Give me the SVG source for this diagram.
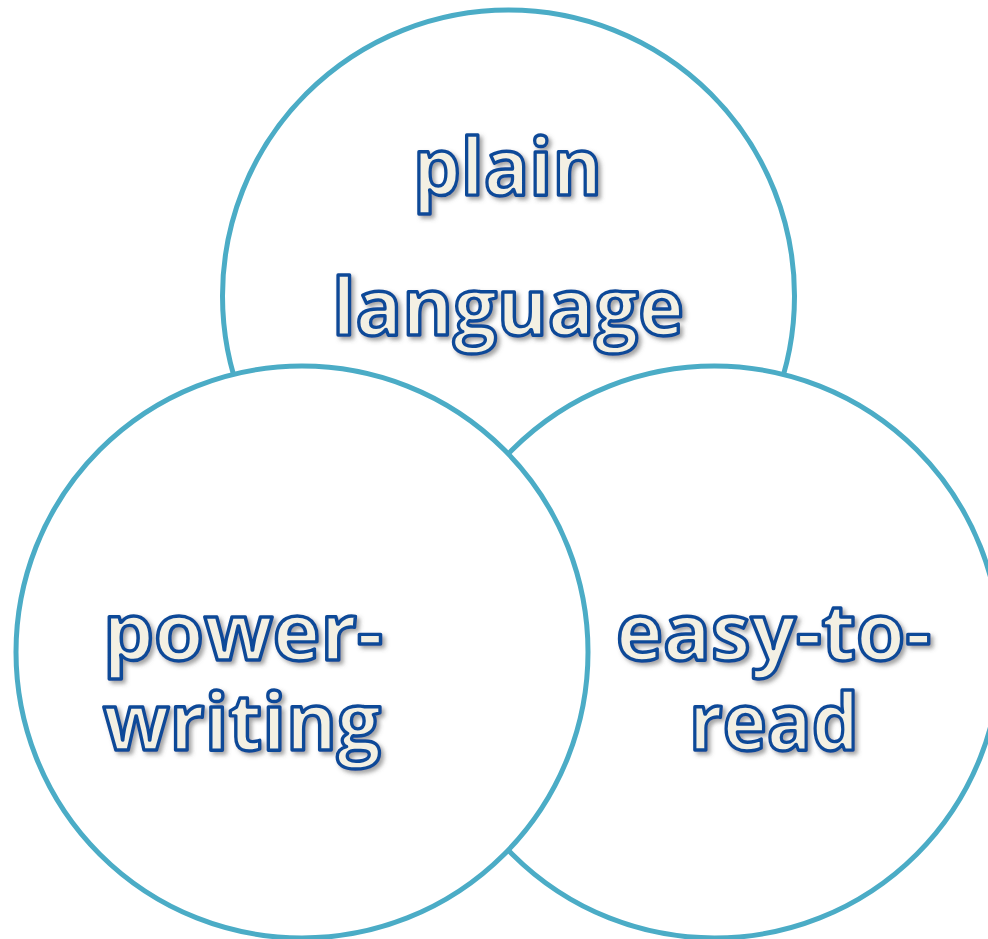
<svg xmlns="http://www.w3.org/2000/svg" width="988" height="939" viewBox="0 0 988 939">
  <defs>
    <filter id="soft-shadow" x="-10%" y="-20%" width="130%" height="150%">
      <feDropShadow dx="3" dy="3" stdDeviation="2" flood-color="#5a5a5a" flood-opacity="0.55"/>
    </filter>
  </defs>
  <style>
    .ring { fill: #ffffff; stroke: #4bacc6; stroke-width: 5; }
    .label { font-family: "Open Sans", "Liberation Sans", sans-serif; font-weight: 700; font-size: 78px;
             fill: #f3f0e3; stroke: #114a98; stroke-width: 3.4; stroke-linejoin: round;
             text-anchor: middle; filter: url(#soft-shadow); }
  </style>
  <rect width="988" height="939" fill="#ffffff"/>

  <!-- top circle: plain language -->
  <g id="plain-language">
    <circle class="ring" cx="508.5" cy="296" r="286"/>
    <text class="label" x="507.5" y="195" textLength="189" lengthAdjust="spacingAndGlyphs">plain</text>
    <text class="label" x="508" y="335" textLength="352" lengthAdjust="spacingAndGlyphs">language</text>
  </g>

  <!-- right circle: easy-to-read -->
  <g id="easy-to-read">
    <circle class="ring" cx="714.5" cy="652" r="286"/>
    <text class="label" x="773.5" y="660" textLength="315" lengthAdjust="spacingAndGlyphs">easy-to-</text>
    <text class="label" x="774" y="750" textLength="170" lengthAdjust="spacingAndGlyphs">read</text>
  </g>

  <!-- left circle: power-writing -->
  <g id="power-writing">
    <circle class="ring" cx="302" cy="652" r="286"/>
    <text class="label" x="243" y="660" textLength="280" lengthAdjust="spacingAndGlyphs">power-</text>
    <text class="label" x="242" y="750" textLength="278" lengthAdjust="spacingAndGlyphs">writing</text>
  </g>

  <g id="connectors"/>
</svg>
